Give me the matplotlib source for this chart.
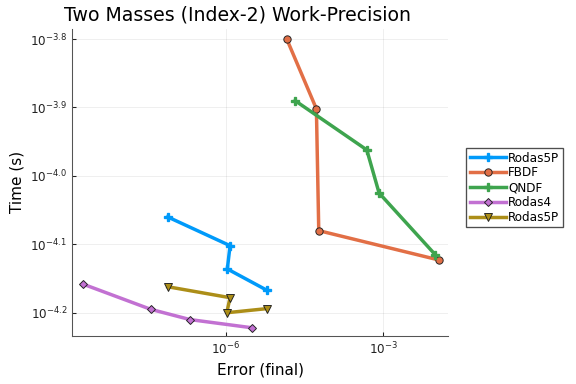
import numpy as np
import matplotlib
matplotlib.use('Agg')
import matplotlib.pyplot as plt

# log10 of error / time
rodas5p_a_err = [-7.104, -5.918, -5.970, -5.220]
rodas5p_a_time = [-4.060, -4.102, -4.136, -4.167]
fbdf_err = [-4.839, -4.275, -4.230, -1.939]
fbdf_time = [-3.800, -3.902, -4.080, -4.123]
qndf_err = [-4.681, -3.316, -3.082, -2.015]
qndf_time = [-3.890, -3.962, -4.025, -4.115]
rodas4_err = [-8.722, -7.428, -6.680, -5.499]
rodas4_time = [-4.158, -4.195, -4.210, -4.222]
rodas5p_b_err = [-7.104, -5.918, -5.981, -5.220]
rodas5p_b_time = [-4.162, -4.178, -4.200, -4.194]

series = [
    ('Rodas5P', rodas5p_a_err, rodas5p_a_time, '#009AFA', 'P'),
    ('FBDF', fbdf_err, fbdf_time, '#E26F46', 'o'),
    ('QNDF', qndf_err, qndf_time, '#3EA44E', 'P'),
    ('Rodas4', rodas4_err, rodas4_time, '#C271D2', 'D'),
    ('Rodas5P', rodas5p_b_err, rodas5p_b_time, '#AC8E18', 'v'),
]

fig = plt.figure(figsize=(6, 4), dpi=96)
ax = fig.add_axes([0.125, 0.125, 0.653, 0.80])

for name, e, t, c, m in series:
    x = 10 ** np.array(e)
    y = 10 ** np.array(t)
    if m == 'P':
        ax.plot(x, y, color=c, lw=2.6, marker=m, ms=6, mec=c, label=name)
    else:
        ax.plot(x, y, color=c, lw=2.6, marker=m, ms=5.5 if m != 'D' else 4.5,
                mec='#222222', mew=0.7, label=name)

ax.set_xscale('log')
ax.set_yscale('log')
ax.set_xlim(10 ** -8.926, 10 ** -1.768)
ax.set_ylim(10 ** -4.234, 10 ** -3.785)

ax.set_xticks([1e-6, 1e-3])
ax.set_xticklabels([r'$10^{-6}$', r'$10^{-3}$'])
yt = [-4.2, -4.1, -4.0, -3.9, -3.8]
ax.set_yticks([10 ** v for v in yt])
ax.set_yticklabels([r'$10^{%.1f}$' % v for v in yt])
ax.minorticks_off()
ax.tick_params(direction='in', length=3, labelsize=9, colors='#222222')

ax.grid(True, color='#000000', alpha=0.08, lw=0.6)
for s in ['top', 'right']:
    ax.spines[s].set_visible(False)
for s in ['left', 'bottom']:
    ax.spines[s].set_color('#555555')

ax.set_title('Two Masses (Index-2) Work-Precision', fontsize=14.2, loc='left', x=-0.02)
ax.set_xlabel('Error (final)', fontsize=11.4)
ax.set_ylabel('Time (s)', fontsize=11.4)

ax.legend(loc='upper left', bbox_to_anchor=(1.048, 0.612), fontsize=9,
          frameon=True, fancybox=False, edgecolor='#222222', borderpad=0.3,
          labelspacing=0.15, handlelength=3.0, handletextpad=0.2, borderaxespad=0)

plt.savefig('out.png', dpi=96)
